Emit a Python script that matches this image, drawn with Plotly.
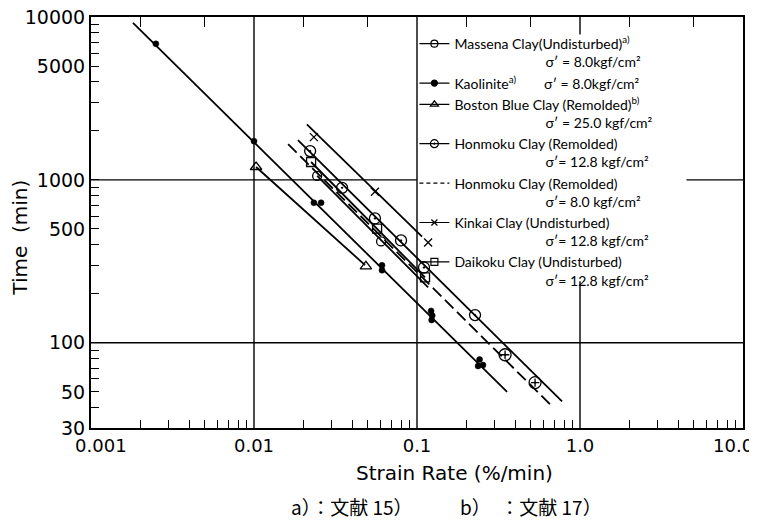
import math
import plotly.graph_objects as go

# ---------------- data ----------------
kaol_x = [0.0025, 0.0100, 0.0233, 0.0258, 0.061, 0.061, 0.122, 0.123, 0.124, 0.242, 0.237, 0.254]
kaol_y = [6840, 1730, 724, 724, 299, 279, 157, 138, 147, 79, 72, 73]
kaol_fit_x = [0.00181, 0.357]
kaol_fit_y = [9190, 50]

mass_x = [0.0244, 0.0602]
mass_y = [1058, 419]
mass_fit_x = [0.0244, 0.117]
mass_fit_y = [1060, 219]

bost_x = [0.0103, 0.0486]
bost_y = [1200, 295]
bost_fit_x = [0.0103, 0.0480]
bost_fit_y = [1200, 300]

honm_x = [0.0221, 0.0347, 0.0552, 0.0798, 0.1104, 0.227]
honm_y = [1503, 894, 580, 425, 290, 148]
honm_fit_x = [0.0186, 0.776]
honm_fit_y = [1754, 43.7]

honm8_x = [0.347, 0.53]
honm8_y = [84.5, 57]
honm8_fit_x = [0.0162, 0.683]
honm8_fit_y = [1659, 40.2]

kink_x = [0.0233, 0.0552, 0.117]
kink_y = [1830, 845, 413]
kink_fit_x = [0.0211, 0.1074]
kink_fit_y = [2195, 449]

daik_x = [0.0224, 0.0569, 0.112]
daik_y = [1288, 502, 252]
daik_fit_x = [0.0224, 0.112]
daik_fit_y = [1288, 252]

# label anchors: the end labels sit slightly inside the frame, as in the original
x_tickvals = [0.00115, 0.01, 0.1, 1, 8.7]
x_ticktext = ["0.001", "0.01", "0.1", "1.0", "10.0"]
y_tickvals = [30, 50, 100, 500, 1000, 5000, 10000]
y_ticktext = ["30", "50", "100", "500", "1000", "5000", "10000"]

names = [
    "Massena Clay(Undisturbed)<sup>a)</sup>",
    "Kaolinite<sup>a)</sup>",
    "Boston Blue Clay (Remolded)<sup>b)</sup>",
    "Honmoku Clay (Remolded)",
    "Honmoku Clay (Remolded)",
    "Kinkai Clay (Undisturbed)",
    "Daikoku Clay (Undisturbed)",
]
stresses = ["σ′ = 8.0kgf/cm²", "σ′ = 8.0kgf/cm²", "σ′ = 25.0 kgf/cm²",
            "σ′= 12.8 kgf/cm²", "σ′= 8.0 kgf/cm²", "σ′= 12.8 kgf/cm²", "σ′= 12.8 kgf/cm²"]

# ---------------- figure ----------------
FONT = "Lato"
AXFONT = "DejaVu Sans"
INDENT = "\u2003" * 8 + "\u2002"
BLK = "black"
LW = 1.8

fig = go.Figure()

def fit(xs, ys, dash="solid"):
    fig.add_trace(go.Scatter(x=xs, y=ys, mode="lines", showlegend=False, hoverinfo="skip",
                             line=dict(color=BLK, width=LW, dash=dash)))

def pts(xs, ys, symbol, size, lw=1.3):
    fig.add_trace(go.Scatter(x=xs, y=ys, mode="markers", showlegend=False,
                             marker=dict(symbol=symbol, size=size, color=BLK,
                                         line=dict(color=BLK, width=lw))))

def legend_entry(name, symbol, size, dash="solid", mode="lines+markers"):
    fig.add_trace(go.Scatter(x=[None], y=[None], mode=mode, name=name,
                             line=dict(color=BLK, width=1.2, dash=dash),
                             marker=dict(symbol=symbol, size=size, color=BLK,
                                         line=dict(color=BLK, width=1.2))))

# fitted lines
fit(kaol_fit_x, kaol_fit_y)
fit(mass_fit_x, mass_fit_y)
fit(bost_fit_x, bost_fit_y)
fit(honm_fit_x, honm_fit_y)
fit(honm8_fit_x, honm8_fit_y, dash="12px,5px")
fit(kink_fit_x, kink_fit_y)
fit(daik_fit_x, daik_fit_y)

# data points
pts(kaol_x, kaol_y, "circle", 6, 0.5)
pts(mass_x, mass_y, "circle-open", 9)
pts(bost_x, bost_y, "triangle-up-open", 10)
pts(honm_x, honm_y, "circle-open-dot", 11)
pts(honm8_x, honm8_y, "circle-open-dot", 12)
pts(honm8_x, honm8_y, "cross-thin-open", 6)
pts(kink_x, kink_y, "x-thin-open", 8)
pts(daik_x, daik_y, "square-open", 9)

# legend entries
legend_entry(names[0] + "<br>" + INDENT + stresses[0], "circle-open", 7)
legend_entry(names[1] + "\u2003\u2003\u2002" + stresses[1], "circle", 6)
legend_entry(names[2] + "<br>" + INDENT + stresses[2], "triangle-up-open", 7)
legend_entry(names[3] + "<br>" + INDENT + stresses[3], "circle-open-dot", 8)
legend_entry(names[4] + "<br>" + INDENT + stresses[4], "circle", 1, dash="4px,3px", mode="lines")
legend_entry(names[5] + "<br>" + INDENT + stresses[5], "x-thin-open", 6)
legend_entry(names[6] + "<br>" + INDENT + stresses[6], "square-open", 7)

# helper trace for the overlay axis (top ticks)
fig.add_trace(go.Scatter(x=[None], y=[None], xaxis="x2", yaxis="y2", showlegend=False, hoverinfo="skip"))

x_minor = [m * 10 ** e for e in range(-3, 1) for m in range(2, 10)]
y_minor = [v for v in (m * 10 ** e for e in range(1, 4) for m in range(2, 10)) if 30 < v < 10000]
x_top = [m * 10 ** e for e in range(-3, 1) for m in (2, 5)]

yr = [math.log10(30), 4]

# page body has an 8px margin -> figure is 8px smaller; plot area spans x 91..743, y 17..428
fig.update_layout(
    width=749, height=517,
    margin=dict(l=83, r=14, t=9, b=97, autoexpand=False),
    paper_bgcolor="white", plot_bgcolor="white",
    font=dict(family=FONT, color=BLK),
    showlegend=True,
    legend=dict(x=0.496, y=0.973, xanchor="left", yanchor="top",
                bgcolor="rgba(0,0,0,0)", borderwidth=0, valign="top",
                font=dict(family=FONT, size=14, color=BLK), itemwidth=30,
                tracegroupgap=0),
    xaxis=dict(type="log", range=[-3, 1], tickvals=x_tickvals, ticktext=x_ticktext,
               ticks="", showgrid=False, showline=True, linecolor=BLK, linewidth=2,
               mirror=True, zeroline=False, ticklabeloverflow="allow",
               tickfont=dict(family=AXFONT, size=18, color=BLK),
               minor=dict(tickvals=x_minor, ticks="inside", ticklen=8, tickcolor=BLK,
                          tickwidth=1.3, showgrid=False)),
    yaxis=dict(type="log", range=yr, tickvals=y_tickvals, ticktext=y_ticktext,
               ticks="inside", ticklen=8, tickcolor=BLK, tickwidth=1.3,
               showgrid=False, showline=True, linecolor=BLK, linewidth=2,
               mirror=True, zeroline=False, ticklabeloverflow="allow",
               tickfont=dict(family=AXFONT, size=19, color=BLK),
               minor=dict(tickvals=y_minor, ticks="inside", ticklen=8, tickcolor=BLK,
                          tickwidth=1.3, showgrid=False)),
    xaxis2=dict(type="log", range=[-3, 1], overlaying="x", side="top", anchor="y2",
                tickvals=x_top, ticks="inside", ticklen=10, tickcolor=BLK, tickwidth=1.3,
                showticklabels=False, showgrid=False, showline=False, zeroline=False),
    yaxis2=dict(type="log", range=yr, overlaying="y", side="left", anchor="x2",
                showticklabels=False, showgrid=False, showline=False, ticks="", zeroline=False),
)

# grid lines (interrupted where the original legend was lettered over them)
grid_kw = dict(type="line", xref="x", yref="y", layer="below", line=dict(color=BLK, width=1.4))
fig.add_shape(x0=0.01, x1=0.01, y0=30, y1=10000, **grid_kw)
fig.add_shape(x0=0.1, x1=0.1, y0=30, y1=10000, **grid_kw)
fig.add_shape(x0=1, x1=1, y0=30, y1=239, **grid_kw)
fig.add_shape(x0=1, x1=1, y0=7800, y1=10000, **grid_kw)
fig.add_shape(x0=0.001, x1=10, y0=100, y1=100, **grid_kw)
fig.add_shape(x0=0.001, x1=0.1, y0=1000, y1=1000, **grid_kw)
fig.add_shape(x0=4.5, x1=10, y0=1000, y1=1000, **grid_kw)

# axis titles and footnote
fig.add_annotation(text="Time\u00a0\u00a0(min)", xref="paper", yref="paper", x=-0.108, y=0.462,
                   xanchor="center", yanchor="middle",
                   textangle=-90, showarrow=False, font=dict(family=AXFONT, size=20, color=BLK))
fig.add_annotation(text="Strain Rate (%/min)", xref="paper", yref="paper", x=0.558, y=-0.1095,
                   xanchor="center", yanchor="middle",
                   showarrow=False, font=dict(family=AXFONT, size=20, color=BLK))
fig.add_annotation(text="a）：文献 15）\u3000\u3000\u3000b）\u3000：文献 17）", xref="paper", yref="paper",
                   x=0.545, y=-0.192, xanchor="center", yanchor="middle", showarrow=False,
                   font=dict(family="Noto Sans CJK JP", size=19, color=BLK))

fig.write_html("out.html")
